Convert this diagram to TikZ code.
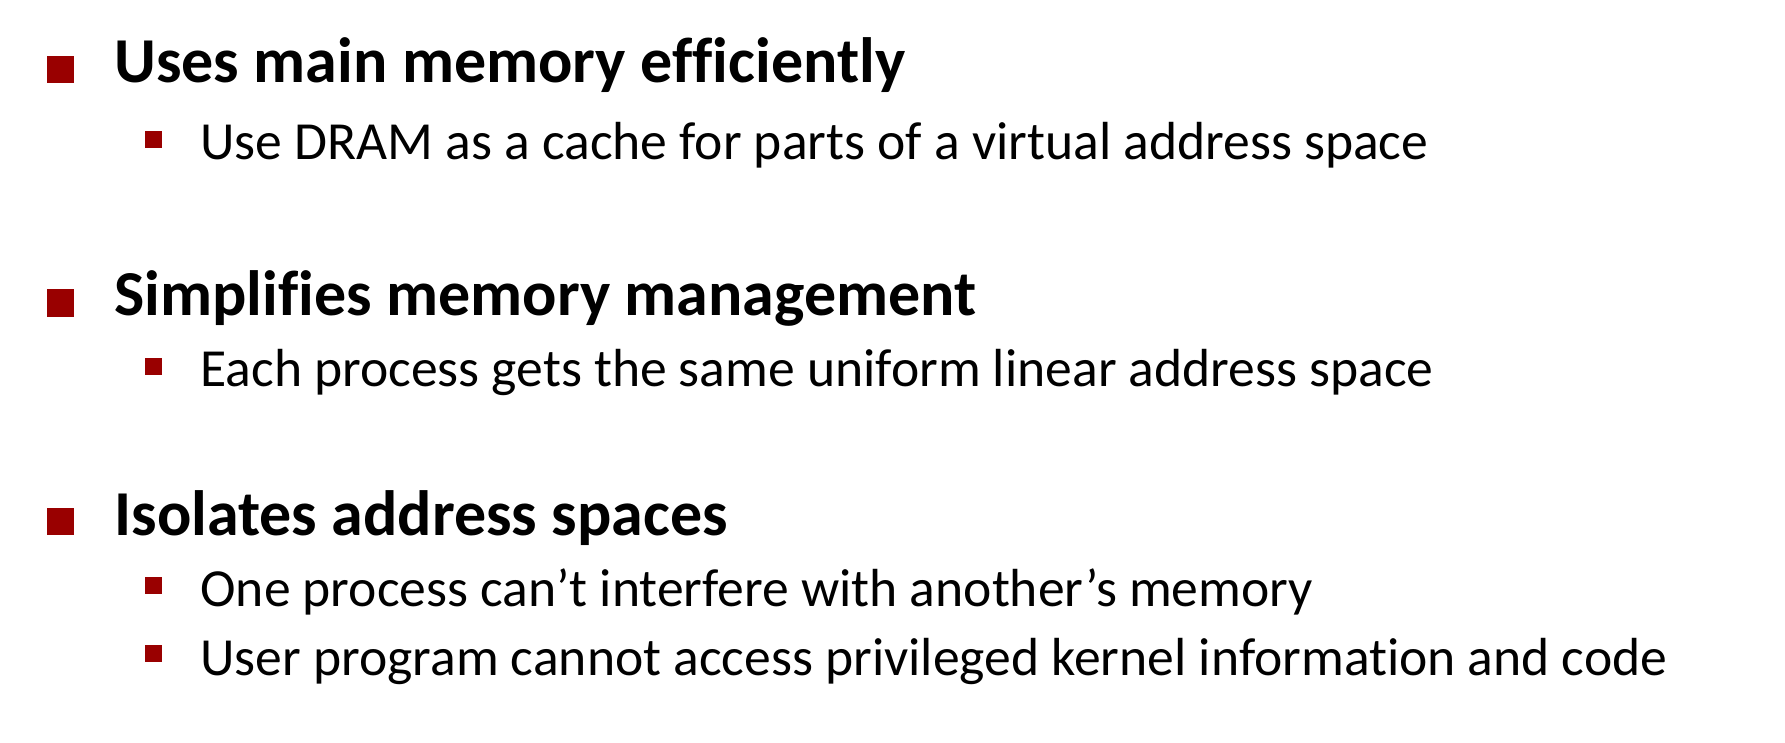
\documentclass[tikz,border=0pt]{standalone}
\usepackage{fontspec}
\setmainfont{Carlito}[Ligatures={NoCommon}]
\usepackage{tikz}
\definecolor{slidered}{HTML}{990000}
\tikzset{
  headline/.style={anchor=base west,inner sep=0,font=\fontsize{32}{36}\selectfont\bfseries},
  subline/.style={anchor=base west,inner sep=0,font=\fontsize{26.8}{31}\selectfont},
}
\begin{document}
\begin{tikzpicture}[x=0.5pt,y=-0.5pt]
  \useasboundingbox (0,0) rectangle (1785,743);
  % memory
  \fill[slidered] (47,56) rectangle (74,83);
  \node[headline] (memory) at (114,83) {Uses main memory efficiently};
  \fill[slidered] (145,131) rectangle (162,148);
  \node[subline] (dram) at (200,160) {Use DRAM as a cache for parts of a virtual address space};
  % management
  \fill[slidered] (47,289) rectangle (74,317);
  \node[headline] (manage) at (114,316) {Simplifies memory management};
  \fill[slidered] (145,358) rectangle (162,375);
  \node[subline] (linear) at (200,387) {Each process gets the same uniform linear address space};
  % isolation
  \fill[slidered] (47,508) rectangle (74,535);
  \node[headline] (isolate) at (114,535) {Isolates address spaces};
  \fill[slidered] (145,577) rectangle (162,594);
  \node[subline] (other) at (200,606) {One process can’t interfere with another’s memory};
  \fill[slidered] (145,645) rectangle (162,662);
  \node[subline] (kernel) at (200,675) {User program cannot access privileged kernel information and code};
\end{tikzpicture}
\end{document}
